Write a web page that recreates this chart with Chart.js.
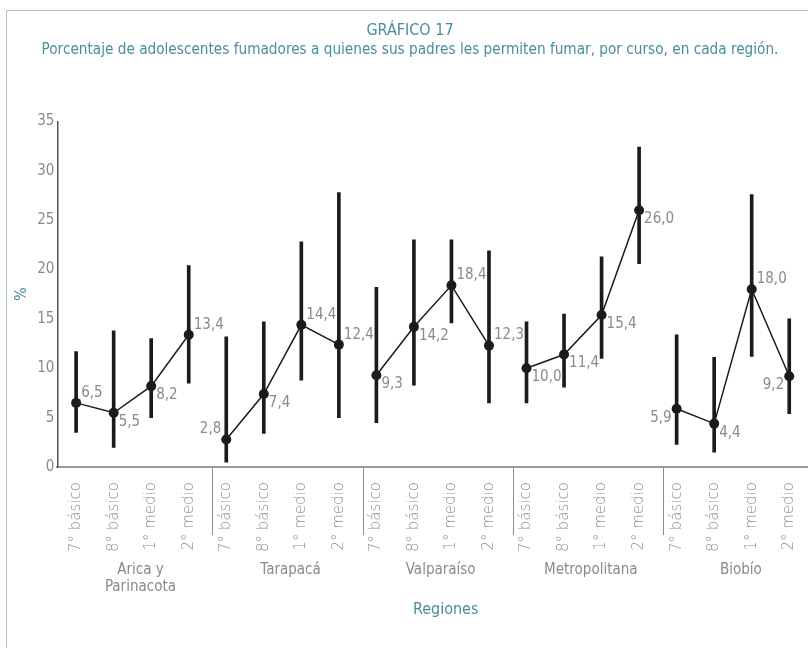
<!DOCTYPE html>
<html>
<head>
<meta charset="utf-8">
<script src="https://cdn.jsdelivr.net/npm/chart.js@4/dist/chart.umd.min.js"></script>
<style>
    body { margin: 0; background: #ffffff; }
    #grafico17 { display: block; }
</style>
</head>
<body>
<canvas id="grafico17" width="808" height="648"></canvas>
<script>
const cursos = ['7° básico', '8° básico', '1° medio', '2° medio'];
const regiones = [['Arica y', 'Parinacota'], 'Tarapacá', 'Valparaíso', 'Metropolitana', 'Biobío'];

// porcentaje por curso, region tras region
const porcentajes = [6.5, 5.5, 8.2, 13.4, 2.8, 7.4, 14.4, 12.4, 9.3, 14.2, 18.4, 12.3, 10.0, 11.4, 15.4, 26.0, 5.9, 4.4, 18.0, 9.2];
const limiteInferior = [3.5, 2.0, 5.0, 8.5, 0.5, 3.4, 8.8, 5.0, 4.5, 8.3, 14.6, 6.5, 6.5, 8.1, 11.0, 20.6, 2.3, 1.5, 11.2, 5.4];
const limiteSuperior = [11.7, 13.8, 13.0, 20.4, 13.2, 14.7, 22.8, 27.8, 18.2, 23.0, 23.0, 21.9, 14.7, 15.5, 21.3, 32.4, 13.4, 11.1, 27.6, 15.0];

const yMax = 35;
const yPaso = 5;

// donde va cada etiqueta: r/l = derecha/izquierda, a/b = arriba/abajo
const posEtiqueta = ['ra', 'rb', 'rb', 'ra', 'la', 'rb', 'ra', 'ra', 'rb', 'rb', 'ra', 'ra', 'rb', 'rb', 'rb', 'rb', 'lb', 'rb', 'ra', 'lb'];

const TEAL = '#4a8d9d';
const GRIS = '#8a8a8a';
const NEGRO = '#1b1b1b';
const FUENTE = '"Liberation Sans Narrow", "DejaVu Sans Condensed", sans-serif';

const etiquetasX = [];
regiones.forEach(() => cursos.forEach(c => etiquetasX.push(c)));
const intervalos = porcentajes.map((v, i) => [limiteInferior[i], limiteSuperior[i]]);

const marco = {
    id: 'marco',
    beforeDraw(chart) {
        const ctx = chart.ctx;
        ctx.save();
        ctx.strokeStyle = '#a9c2cd';
        ctx.lineWidth = 1;
        ctx.strokeRect(6.5, 10.5, chart.width + 20, chart.height + 20);
        ctx.restore();
    }
};

// separadores, nombres de region y titulo "Regiones" bajo el eje x
const grupos = {
    id: 'grupos',
    afterDraw(chart) {
        const ctx = chart.ctx;
        const x = chart.scales.x;
        const base = chart.chartArea.bottom;
        ctx.save();
        ctx.strokeStyle = '#8c8c8c';
        ctx.lineWidth = 1;
        for (let g = 1; g < regiones.length; g++) {
            const sx = Math.round((x.getPixelForValue(g * 4 - 1) + x.getPixelForValue(g * 4)) / 2 + 5) + 0.5;
            ctx.beginPath();
            ctx.moveTo(sx, base);
            ctx.lineTo(sx, base + 68);
            ctx.stroke();
        }
        ctx.fillStyle = GRIS;
        ctx.font = '15px ' + FUENTE;
        ctx.textAlign = 'center';
        ctx.textBaseline = 'middle';
        regiones.forEach((r, g) => {
            const cx = (x.getPixelForValue(g * 4) + x.getPixelForValue(g * 4 + 3)) / 2 + 8;
            const lineas = Array.isArray(r) ? r : [r];
            lineas.forEach((t, k) => ctx.fillText(t, cx, base + 103 + k * 17));
        });
        ctx.fillStyle = TEAL;
        ctx.font = '16px ' + FUENTE;
        ctx.fillText('Regiones', (x.left + x.right) / 2 + 13, base + 143);
        ctx.restore();
    }
};

const etiquetas = {
    id: 'etiquetas',
    afterDatasetsDraw(chart) {
        const ctx = chart.ctx;
        const meta = chart.getDatasetMeta(1);
        ctx.save();
        ctx.fillStyle = GRIS;
        ctx.font = '15px ' + FUENTE;
        ctx.textBaseline = 'middle';
        meta.data.forEach((p, i) => {
            const pos = posEtiqueta[i];
            const texto = porcentajes[i].toFixed(1).replace('.', ',');
            ctx.textAlign = pos[0] === 'r' ? 'left' : 'right';
            const dx = pos[0] === 'r' ? 5 : -5;
            const dy = pos[1] === 'a' ? -10 : 9;
            ctx.fillText(texto, p.x + dx, p.y + dy);
        });
        ctx.restore();
    }
};

new Chart(document.getElementById('grafico17'), {
    data: {
        labels: etiquetasX,
        datasets: [{
            type: 'bar',
            data: intervalos,
            backgroundColor: NEGRO,
            barThickness: 3,
            borderWidth: 0,
            order: 2
        }, {
            type: 'line',
            data: porcentajes,
            borderColor: NEGRO,
            borderWidth: 1.5,
            pointRadius: 5,
            pointBackgroundColor: NEGRO,
            pointBorderWidth: 0,
            tension: 0,
            segment: {
                borderColor: ctx => (ctx.p0DataIndex % 4 === 3) ? 'rgba(0,0,0,0)' : NEGRO
            },
            order: 1
        }]
    },
    options: {
        responsive: false,
        animation: false,
        layout: {
            autoPadding: false,
            padding: { left: 12, right: 0, top: 0, bottom: 81 }
        },
        plugins: {
            legend: { display: false },
            tooltip: { enabled: false },
            title: {
                display: true,
                text: 'GRÁFICO 17',
                color: TEAL,
                font: { family: FUENTE, size: 16, weight: 'normal' },
                padding: { top: 21, bottom: 1 }
            },
            subtitle: {
                display: true,
                text: 'Porcentaje de adolescentes fumadores a quienes sus padres les permiten fumar, por curso, en cada región.',
                color: TEAL,
                font: { family: FUENTE, size: 15.2 },
                padding: { top: 0, bottom: 62 }
            }
        },
        scales: {
            x: {
                grid: { display: false, drawTicks: false },
                border: { color: '#9a9a9a', width: 2 },
                afterFit: s => { s.paddingRight = 0; },
                ticks: {
                    color: '#8e8e8e',
                    font: { family: '"DejaVu Sans", sans-serif', size: 15, weight: 200 },
                    minRotation: 90,
                    maxRotation: 90,
                    autoSkip: false,
                    padding: 15
                }
            },
            y: {
                min: 0,
                max: yMax,
                grid: { display: false, drawTicks: false },
                border: { color: '#555555', width: 1.5 },
                ticks: {
                    stepSize: yPaso,
                    color: GRIS,
                    font: { family: FUENTE, size: 15 },
                    padding: 3
                },
                title: {
                    display: true,
                    text: '%',
                    color: TEAL,
                    font: { family: FUENTE, size: 16 },
                    padding: { top: 0, bottom: 3 }
                }
            }
        }
    },
    plugins: [marco, grupos, etiquetas]
});
</script>
</body>
</html>
